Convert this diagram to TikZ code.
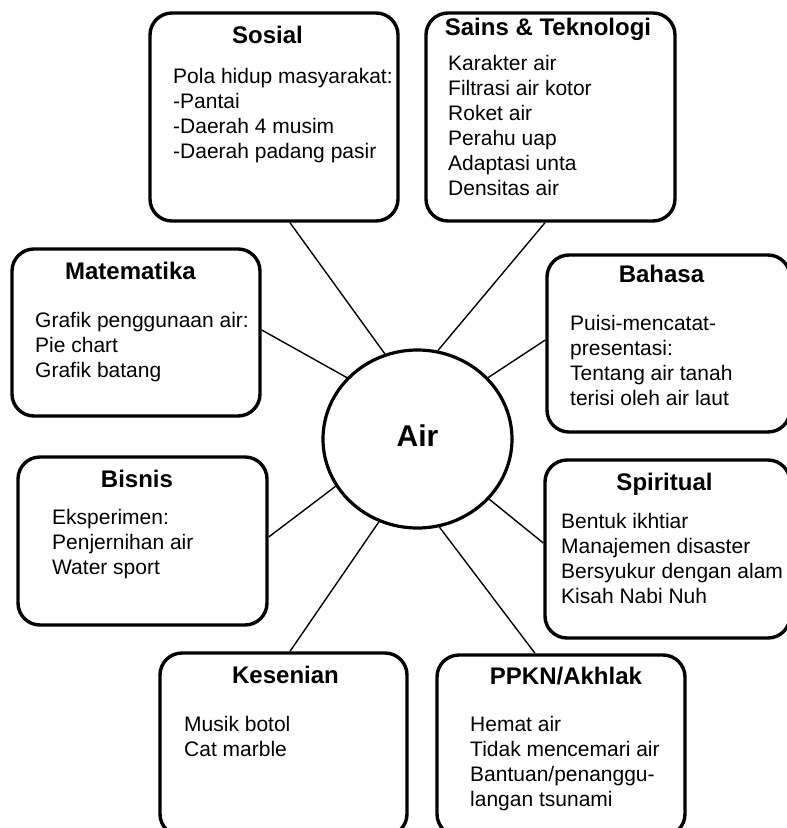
\documentclass[tikz,border=0pt]{standalone}
\usepackage{fontspec}
\setmainfont{Liberation Sans}
\usetikzlibrary{shapes.geometric}
\newcommand{\bodytxt}[1]{\begin{tabular}[t]{@{}l@{}}#1\end{tabular}}
\begin{document}
\begin{tikzpicture}[x=1pt,y=-1pt,
  box/.style={draw,rectangle,rounded corners=22pt,line width=3.4pt,inner sep=0pt},
  ttl/.style={anchor=base,font=\fontsize{24}{28}\selectfont\bfseries,inner sep=0pt},
  bdy/.style={anchor=base west,font=\fontsize{21}{25}\selectfont,inner sep=0pt},
  conn/.style={line width=1.4pt}]
\useasboundingbox (0,0) rectangle (787,828);
\clip (0,0) rectangle (787,828);
% boxes
\node[box,minimum width=248pt,minimum height=208pt] (sosial) at (274,117) {};
\node[box,minimum width=249pt,minimum height=208pt] (sains) at (550.5,117) {};
\node[box,minimum width=248pt,minimum height=167pt] (mat) at (136,332.5) {};
\node[box,minimum width=243pt,minimum height=177pt] (bahasa) at (668.5,343.5) {};
\node[box,minimum width=249pt,minimum height=168pt] (bisnis) at (142.5,541) {};
\node[box,minimum width=247pt,minimum height=183pt] (kesenian) at (283.5,744.5) {};
\node[box,minimum width=245pt,minimum height=178pt] (spiritual) at (667.5,549) {};
\node[box,minimum width=248pt,minimum height=181pt] (ppkn) at (561,745.5) {};
% centre
\node[draw,ellipse,line width=3.2pt,minimum width=189pt,minimum height=178pt,inner sep=0pt] (air) at (417.5,439) {};
\node[anchor=base,font=\fontsize{30}{34}\selectfont\bfseries,inner sep=0pt] (airtxt) at (417.5,446) {Air};
% connectors
\draw[conn] ([xshift=16pt]sosial.south) -- (air.111);
\draw[conn] ([yshift=2.5pt]mat.east) -- (air.139);
\draw[conn] ([xshift=-5.5pt]sains.south) -- (air.77.6);
\draw[conn] ([yshift=3.5pt]bahasa.west) -- (air.41.3);
\draw[conn] ([yshift=4pt]bisnis.east) -- (air.210.7);
\draw[conn] ([xshift=6.5pt]kesenian.north) -- (air.245.8);
\draw[conn] ([yshift=6pt]spiritual.west) -- (air.320);
\draw[conn] ([xshift=-26pt]ppkn.north) -- (air.284);
% titles
\node[ttl] (tsosial) at (267.5,43) {Sosial};
\node[ttl] (tsains) at (548,35) {Sains \& Teknologi};
\node[ttl] (tmat) at (130.5,279) {Matematika};
\node[ttl] (tbahasa) at (661.5,282) {Bahasa};
\node[ttl] (tbisnis) at (137,487) {Bisnis};
\node[ttl] (tkesenian) at (285.5,683) {Kesenian};
\node[ttl] (tspiritual) at (664.5,490) {Spiritual};
\node[ttl] (tppkn) at (566,684) {PPKN/Akhlak};
% bodies
\node[bdy] (bsosial) at (173,83) {\bodytxt{Pola hidup masyarakat:\\-Pantai\\-Daerah 4 musim\\-Daerah padang pasir}};
\node[bdy] (bsains) at (448,70) {\bodytxt{Karakter air\\Filtrasi air kotor\\Roket air\\Perahu uap\\Adaptasi unta\\Densitas air}};
\node[bdy] (bmat) at (35,327) {\bodytxt{Grafik penggunaan air:\\Pie chart\\Grafik batang}};
\node[bdy] (bbahasa) at (570,330) {\bodytxt{Puisi-mencatat-\\presentasi:\\Tentang air tanah\\terisi oleh air laut}};
\node[bdy] (bbisnis) at (52,524) {\bodytxt{Eksperimen:\\Penjernihan air\\Water sport}};
\node[bdy] (bkesenian) at (184,731) {\bodytxt{Musik botol\\Cat marble}};
\node[bdy] (bspiritual) at (561,528) {\bodytxt{Bentuk ikhtiar\\Manajemen disaster\\Bersyukur dengan alam\\Kisah Nabi Nuh}};
\node[bdy] (bppkn) at (470,731) {\bodytxt{Hemat air\\Tidak mencemari air\\Bantuan/penanggu-\\langan tsunami}};
\end{tikzpicture}
\end{document}
